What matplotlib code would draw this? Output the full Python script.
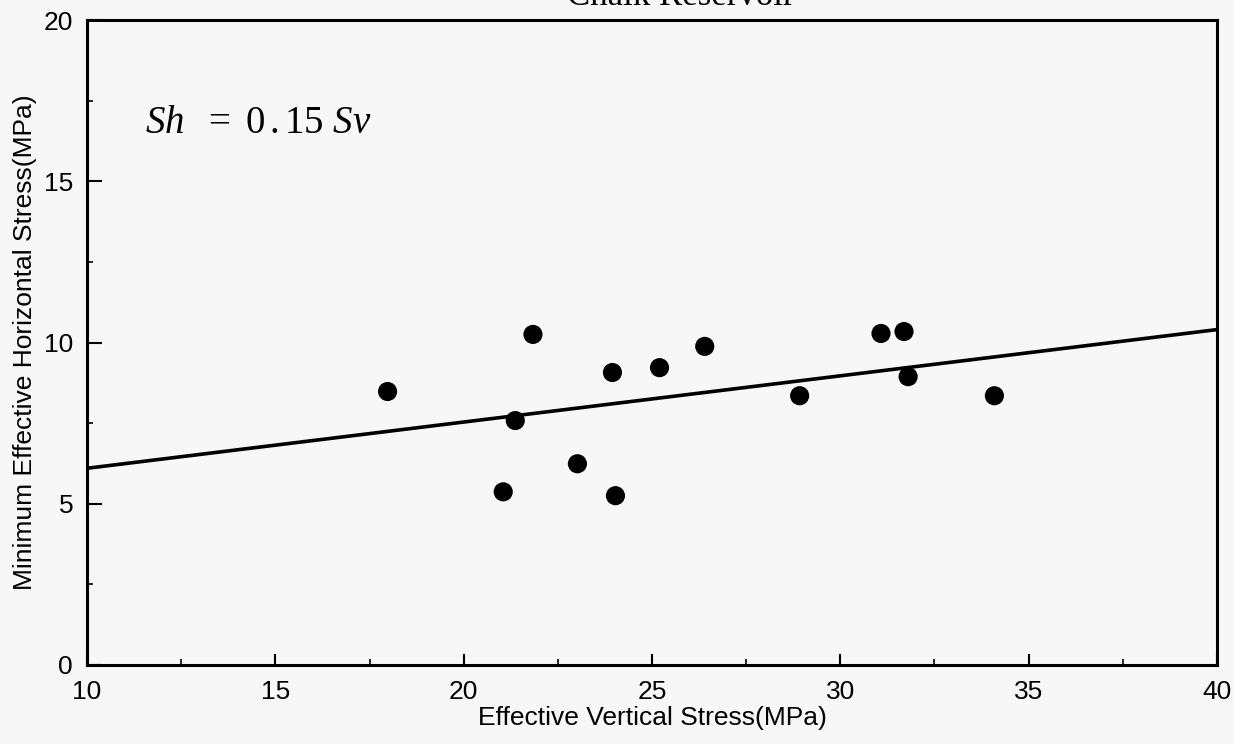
import matplotlib
matplotlib.use("Agg")
import matplotlib.pyplot as plt
from matplotlib.ticker import MultipleLocator

# Effective vertical stress (MPa) and minimum effective horizontal stress (MPa)
sv = [17.98, 21.05, 21.37, 21.84, 23.02, 23.95, 24.03, 25.20, 26.40,
      28.92, 31.08, 31.69, 31.80, 34.09]
sh = [8.48, 5.37, 7.58, 10.25, 6.24, 9.07, 5.25, 9.22, 9.88,
      8.35, 10.28, 10.34, 8.94, 8.35]

# Trend line end points
trend_x = [10, 40]
trend_y = [6.1, 10.4]

title = "Chalk Reservoir"
x_label = "Effective Vertical Stress(MPa)"
y_label = "Minimum Effective Horizontal Stress(MPa)"

W, H = 1234, 744
bg = "#f7f7f7"
plt.rcParams["mathtext.fontset"] = "custom"
plt.rcParams["mathtext.rm"] = "Liberation Serif"
plt.rcParams["mathtext.it"] = "Liberation Serif:italic"

fig = plt.figure(figsize=(W / 100, H / 100), dpi=100, facecolor=bg)
ax = fig.add_axes([87 / W, 1 - 665 / H, (1217 - 87) / W, (665 - 20) / H])
ax.set_facecolor(bg)

ax.plot(trend_x, trend_y, color="black", lw=2.6, solid_capstyle="butt", zorder=2)
ax.scatter(sv, sh, s=190, color="black", edgecolors="none", zorder=3)

ax.set_xlim(10, 40)
ax.set_ylim(0, 20)
ax.xaxis.set_major_locator(MultipleLocator(5))
ax.xaxis.set_minor_locator(MultipleLocator(2.5))
ax.yaxis.set_major_locator(MultipleLocator(5))
ax.yaxis.set_minor_locator(MultipleLocator(2.5))

for s in ax.spines.values():
    s.set_linewidth(2.2)

ax.tick_params(axis="both", which="major", direction="in", width=1.5,
               labelsize=19, colors="black")
ax.tick_params(axis="x", which="major", length=8, pad=11)
ax.tick_params(axis="y", which="major", length=11, pad=10)
ax.tick_params(axis="both", which="minor", direction="in", width=1.2, length=4)

for lab in ax.get_xticklabels() + ax.get_yticklabels():
    lab.set_family("Liberation Sans")

ax.set_xlabel(x_label, fontsize=19, family="Liberation Sans", labelpad=1)
ax.set_ylabel(y_label, fontsize=19, family="Liberation Sans", labelpad=5)

# Regression annotation in the upper-left corner
ax.text(145 / W, 1 - 122 / H, r"$Sh\ \ =\ 0\,.15\ Sv$", transform=fig.transFigure,
        fontsize=28, va="center", ha="left")

fig.text(681 / W, 1 - 5 / H, title, ha="center", va="baseline",
         fontsize=25, family="Liberation Serif")

fig.savefig("out.png", dpi=100, facecolor=bg)
